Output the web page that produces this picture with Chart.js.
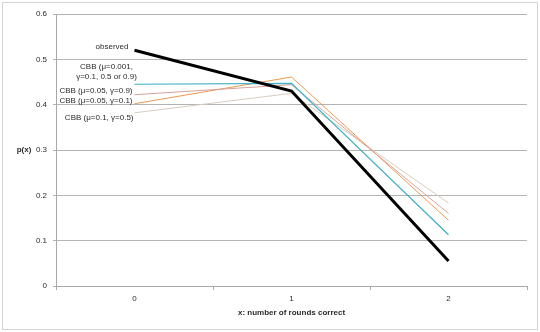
<!DOCTYPE html>
<html>
<head>
<meta charset="utf-8">
<script src="https://cdn.jsdelivr.net/npm/chart.js@4"></script>
<style>
  body { margin: 0; background: #fff; }
  canvas { display: block; }
</style>
</head>
<body>
<canvas id="px-chart" width="540" height="332"></canvas>
<script>
// p(x) by number of rounds correct, observed vs CBB model fits
var rounds = ['0', '1', '2'];
var yTicks = [0, 0.1, 0.2, 0.3, 0.4, 0.5, 0.6];

var observed = [0.52, 0.43, 0.055];
var cbbMu001 = [0.445, 0.447, 0.113];   // mu=0.001, gamma=0.1, 0.5 or 0.9
var cbbMu05G9 = [0.422, 0.444, 0.16];   // mu=0.05, gamma=0.9
var cbbMu05G1 = [0.402, 0.461, 0.145];  // mu=0.05, gamma=0.1
var cbbMu1G5 = [0.382, 0.425, 0.183];   // mu=0.1, gamma=0.5

var seriesLabels = [
  ['observed'],
  ['CBB (\u03bc=0.001,', '\u03b3=0.1, 0.5 or 0.9)'],
  ['CBB (\u03bc=0.05, \u03b3=0.9)'],
  ['CBB (\u03bc=0.05, \u03b3=0.1)'],
  ['CBB (\u03bc=0.1, \u03b3=0.5)']
];

var FONT = '"Liberation Sans", Arial, sans-serif';
var TEXT = '#2a2a2a';

// where each series label sits relative to its first point
var labelPlacement = [
  { dx: -6, dy: -3, align: 'right' },
  { dx: -28, dy: -17, align: 'center' },
  { dx: -2, dy: -4, align: 'right' },
  { dx: -2, dy: -3, align: 'right' },
  { dx: -1, dy: 5, align: 'right' }
];

var frame = {
  id: 'frame',
  beforeDraw: function(chart) {
    var c = chart.ctx;
    c.save();
    c.fillStyle = '#fff';
    c.fillRect(0, 0, chart.width, chart.height);
    c.strokeStyle = '#d4d4d4';
    c.lineWidth = 1;
    c.strokeRect(2.5, 2.5, chart.width - 5, chart.height - 5);
    c.restore();
  },
  afterDraw: function(chart) {
    var c = chart.ctx;
    var xs = chart.scales.x, ys = chart.scales.y;
    c.save();
    c.fillStyle = TEXT;
    c.textBaseline = 'middle';

    // axis titles
    c.font = 'bold 8px ' + FONT;
    c.textAlign = 'center';
    c.fillText('p(x)', 24, ys.getPixelForValue(0.3));
    c.fillText('x: number of rounds correct', (chart.chartArea.left + chart.chartArea.right) / 2, 313);

    // series labels next to the first point of each line
    c.font = '8px ' + FONT;
    chart.data.datasets.forEach(function(ds, i) {
      var p = labelPlacement[i];
      var x = xs.getPixelForValue(0) + p.dx;
      var y = ys.getPixelForValue(ds.data[0]) + p.dy;
      c.textAlign = p.align;
      seriesLabels[i].forEach(function(line, k) {
        c.fillText(line, x, y + k * 10);
      });
    });
    c.restore();
  }
};

function line(data, color, width) {
  return {
    data: data,
    borderColor: color,
    borderWidth: width,
    pointRadius: 0,
    tension: 0,
    fill: false
  };
}

new Chart(document.getElementById('px-chart').getContext('2d'), {
  type: 'line',
  data: {
    labels: rounds,
    datasets: [
      line(observed, '#000000', 3),
      line(cbbMu001, '#3fb0c4', 1.2),
      line(cbbMu05G9, '#d9a29b', 1),
      line(cbbMu05G1, '#eb9a55', 1),
      line(cbbMu1G5, '#d8cdbd', 1)
    ]
  },
  options: {
    responsive: false,
    animation: false,
    layout: { padding: { top: 14, right: 13, left: 0, bottom: 0 } },
    plugins: { legend: { display: false }, tooltip: { enabled: false } },
    scales: {
      x: {
        offset: true,
        grid: { offset: true, drawOnChartArea: false, tickLength: 4, color: '#a8a8a8' },
        border: { color: '#a8a8a8' },
        ticks: { color: TEXT, font: { family: FONT, size: 8 }, padding: 4 },
        afterFit: function(s) { s.height = 46; }
      },
      y: {
        min: 0,
        max: 0.6,
        afterBuildTicks: function(s) { s.ticks = yTicks.map(function(v) { return { value: v }; }); },
        grid: { color: '#b4b4b4', tickLength: 3 },
        border: { color: '#a8a8a8' },
        ticks: {
          color: TEXT,
          font: { family: FONT, size: 8 },
          padding: 6,
          callback: function(v) { return v === 0 ? '0' : v.toFixed(1); }
        },
        afterFit: function(s) { s.width = 56; }
      }
    }
  },
  plugins: [frame]
});
</script>
</body>
</html>
